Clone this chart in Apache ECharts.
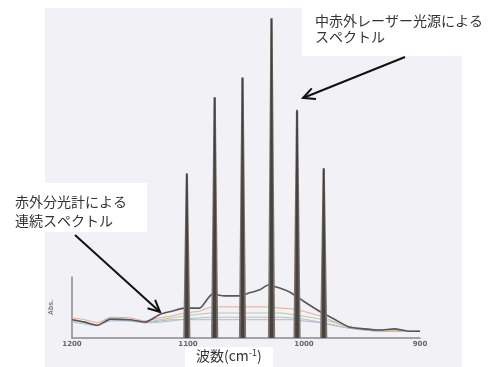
<!DOCTYPE html>
<html>
<head>
<meta charset="utf-8">
<script src="https://cdn.jsdelivr.net/npm/echarts@6/dist/echarts.min.js"></script>
<style>
  html, body { margin: 0; padding: 0; background: #fff; }
  #chart { width: 498px; height: 367px; }
</style>
</head>
<body>
<div id="chart"></div>
<script>
// wavenumber axis (cm-1), drawn decreasing left to right
const xTicks = [1200, 1100, 1000, 900]
const waves = [1200, 1189, 1178, 1167, 1150, 1137, 1124, 1114, 1103, 1090, 1079, 1068, 1055, 1047,
  1038, 1031, 1021, 1012, 1001, 986, 973, 961, 948, 935, 922, 909, 900]

// continuous spectra from the IR spectrometer (relative units)
const darkSpec = [0.30, 0.26, 0.21, 0.31, 0.30, 0.26, 0.39, 0.44, 0.49, 0.49, 0.72, 0.69, 0.69, 0.74,
  0.79, 0.87, 0.82, 0.75, 0.61, 0.43, 0.30, 0.18, 0.15, 0.13, 0.15, 0.11, 0.11]
const pinkSpec = [0.33, 0.30, 0.25, 0.34, 0.33, 0.28, 0.33, 0.36, 0.41, 0.44, 0.51, 0.51, 0.51, 0.51,
  0.51, 0.51, 0.49, 0.48, 0.44, 0.36, 0.26, 0.18, 0.15, 0.13, 0.13, 0.11, 0.11]
const greenSpec = [0.28, 0.25, 0.21, 0.31, 0.30, 0.26, 0.30, 0.33, 0.36, 0.39, 0.41, 0.41, 0.41, 0.41,
  0.41, 0.41, 0.41, 0.39, 0.36, 0.31, 0.25, 0.18, 0.15, 0.13, 0.13, 0.11, 0.11]
const blueSpec = [0.26, 0.23, 0.20, 0.28, 0.28, 0.25, 0.26, 0.28, 0.31, 0.33, 0.34, 0.34, 0.34, 0.34,
  0.34, 0.34, 0.34, 0.33, 0.31, 0.26, 0.21, 0.16, 0.13, 0.11, 0.11, 0.11, 0.11]
const graySpec = [0.30, 0.26, 0.21, 0.30, 0.28, 0.25, 0.28, 0.30, 0.30, 0.30, 0.30, 0.30, 0.30, 0.30,
  0.30, 0.30, 0.30, 0.30, 0.28, 0.25, 0.20, 0.16, 0.13, 0.11, 0.11, 0.11, 0.11]

// mid-IR laser lines
const laserWaves = [1101, 1077, 1053, 1028, 1006, 983]
const laserHeights = [51.5, 75.3, 81.5, 100, 71.3, 53.1]

const chart = echarts.init(document.getElementById("chart"))

function pairs(vals) {
  return waves.map((w, i) => [w, vals[i]])
}

// arrow annotation: line + open head
function arrow(x1, y1, x2, y2) {
  const a = Math.atan2(y2 - y1, x2 - x1)
  const L = 13
  const s = 0.45
  return [
    { type: "line", z: 100, shape: { x1, y1, x2, y2 }, style: { stroke: "#111", lineWidth: 2 } },
    {
      type: "polyline", z: 100,
      shape: {
        points: [
          [x2 - L * Math.cos(a - s), y2 - L * Math.sin(a - s)],
          [x2, y2],
          [x2 - L * Math.cos(a + s), y2 - L * Math.sin(a + s)],
        ],
      },
      style: { stroke: "#111", lineWidth: 2, fill: null },
    },
  ]
}

const jpFont = '"Noto Sans CJK JP", "Noto Sans", sans-serif'

const lineSeries = (name, data, color, width) => ({
  name,
  type: "line",
  xAxisIndex: 0,
  yAxisIndex: 0,
  data: pairs(data),
  smooth: 0.2,
  showSymbol: false,
  silent: true,
  z: 2,
  lineStyle: { color, width },
})

const option = {
  animation: false,
  backgroundColor: "#ffffff",
  grid: [
    { left: 72, right: 78, top: 277, bottom: 29 },
    { left: 72, right: 78, top: 18, bottom: 29 },
  ],
  xAxis: [
    {
      type: "value",
      gridIndex: 0,
      inverse: true,
      min: 900,
      max: 1200,
      interval: 100,
      splitLine: { show: false },
      axisTick: { show: false },
      axisLine: { lineStyle: { color: "#8a8a8a", width: 1.5 } },
      axisLabel: {
        margin: 3,
        fontSize: 7,
        fontWeight: "bold",
        color: "#666",
        fontFamily: "DejaVu Sans",
        customValues: xTicks,
        formatter: (v) => String(v),
      },
    },
    {
      type: "value",
      gridIndex: 1,
      inverse: true,
      min: 900,
      max: 1200,
      show: false,
    },
  ],
  yAxis: [
    {
      type: "value",
      gridIndex: 0,
      min: 0,
      max: 1,
      name: "Abs.",
      nameLocation: "middle",
      nameRotate: 90,
      nameGap: 17,
      nameTextStyle: { fontSize: 7, fontWeight: "bold", color: "#777" },
      splitLine: { show: false },
      axisTick: { show: false },
      axisLabel: { show: false },
      axisLine: { show: true, lineStyle: { color: "#8a8a8a", width: 1.5 } },
    },
    {
      type: "value",
      gridIndex: 1,
      min: 0,
      max: 100,
      show: false,
    },
  ],
  series: [
    lineSeries("gray", graySpec, "#b4b4b8", 1),
    lineSeries("blue", blueSpec, "#a9bfd6", 1),
    lineSeries("green", greenSpec, "#b6caa0", 1),
    lineSeries("pink", pinkSpec, "#e2a999", 1),
    lineSeries("dark", darkSpec, "#575757", 1.6),
    {
      name: "laser",
      type: "custom",
      xAxisIndex: 1,
      yAxisIndex: 1,
      clip: false,
      z: 5,
      silent: true,
      data: laserWaves.map((w, i) => [w, laserHeights[i]]),
      encode: { x: 0, y: 1 },
      renderItem: (params, api) => {
        const b = api.coord([api.value(0), 0])
        const t = api.coord([api.value(0), api.value(1)])
        return {
          type: "group",
          children: [
            {
              type: "polygon",
              shape: { points: [[b[0] - 3.6, b[1]], [b[0] + 3.6, b[1]], [t[0] + 1.1, t[1]], [t[0] - 1.1, t[1]]] },
              style: { fill: "#7c716b" },
            },
            {
              type: "polygon",
              shape: { points: [[b[0] - 1.8, b[1]], [b[0] + 1.8, b[1]], [t[0] + 0.8, t[1] + 1], [t[0] - 0.8, t[1] + 1]] },
              style: { fill: "#46423f" },
            },
          ],
        }
      },
    },
  ],
  graphic: [
    // scanned-figure tint and white label boxes
    { type: "rect", z: -20, shape: { x: 45, y: 8, width: 417, height: 359 }, style: { fill: "#f2f2f6" } },
    { type: "rect", z: -19, shape: { x: 0, y: 183, width: 147, height: 49 }, style: { fill: "#ffffff" } },
    { type: "rect", z: -19, shape: { x: 302, y: 0, width: 196, height: 56 }, style: { fill: "#ffffff" } },
    { type: "rect", z: -19, shape: { x: 185, y: 347, width: 88, height: 20 }, style: { fill: "#ffffff" } },
    {
      type: "text", z: 100, left: 315, top: 13,
      style: { text: "中赤外レーザー光源による\nスペクトル", font: "14px " + jpFont, fill: "#333", lineHeight: 16 },
    },
    {
      type: "text", z: 100, left: 15, top: 192,
      style: { text: "赤外分光計による\n連続スペクトル", font: "14px " + jpFont, fill: "#333", lineHeight: 19 },
    },
    {
      type: "text", z: 100, left: 196, top: 348,
      style: {
        text: "{a|波数(cm}{s|-1}{a|)}",
        rich: {
          a: { fontSize: 14, fontFamily: jpFont, fill: "#333", color: "#333" },
          s: { fontSize: 9, fontFamily: jpFont, fill: "#333", color: "#333", verticalAlign: "top", padding: [0, 0, 6, 0] },
        },
      },
    },
    ...arrow(75, 235, 160, 312),
    ...arrow(405, 57, 303, 98),
  ],
}

chart.setOption(option)
</script>
</body>
</html>
